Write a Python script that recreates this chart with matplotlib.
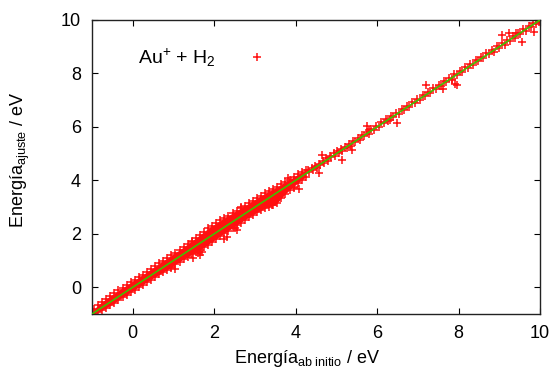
import matplotlib
matplotlib.use("Agg")
import matplotlib.pyplot as plt

plt.rcParams['font.family'] = ['Liberation Sans', 'DejaVu Sans']
plt.rcParams['mathtext.fontset'] = 'custom'
plt.rcParams['mathtext.rm'] = 'Liberation Sans'
plt.rcParams['mathtext.it'] = 'Liberation Sans:italic'

# Dense band (low-energy region): envelope of the point cloud
band_x = [-0.95, -0.85, -0.75, -0.65, -0.55, -0.45, -0.35, -0.25, -0.15, -0.05,
          0.05, 0.15, 0.25, 0.35, 0.45, 0.55, 0.65, 0.75, 0.85, 0.95,
          1.05, 1.15, 1.25, 1.35, 1.45, 1.55, 1.65, 1.75, 1.85, 1.95,
          2.05, 2.15, 2.25, 2.35, 2.45, 2.55, 2.65, 2.75, 2.85, 2.95,
          3.05, 3.15, 3.25, 3.35, 3.45, 3.55, 3.65, 3.75, 3.85, 3.95,
          4.05, 4.15, 4.25]
band_hi = [-0.82, -0.66, -0.54, -0.43, -0.32, -0.22, -0.12, -0.02, 0.08, 0.18,
           0.27, 0.37, 0.47, 0.58, 0.68, 0.78, 0.89, 0.99, 1.09, 1.19,
           1.30, 1.40, 1.51, 1.62, 1.73, 1.85, 1.96, 2.08, 2.20, 2.30,
           2.40, 2.50, 2.59, 2.68, 2.78, 2.87, 2.96, 3.05, 3.14, 3.24,
           3.33, 3.42, 3.51, 3.59, 3.67, 3.76, 3.85, 3.94, 4.03, 4.13,
           4.22, 4.30, 4.38]
band_lo = [-1.00, -0.94, -0.86, -0.77, -0.68, -0.58, -0.48, -0.38, -0.29, -0.19,
           -0.09, 0.01, 0.10, 0.20, 0.29, 0.39, 0.48, 0.58, 0.66, 0.74,
           0.86, 0.96, 1.05, 1.13, 1.23, 1.31, 1.40, 1.50, 1.60, 1.70,
           1.81, 1.92, 2.02, 2.12, 2.22, 2.32, 2.42, 2.52, 2.62, 2.71,
           2.80, 2.88, 2.96, 3.02, 3.06, 3.16, 3.33, 3.50, 3.64, 3.77,
           3.90, 4.01, 4.13]

# Sparse points (higher energies) and outliers
pts_x = [4.30, 4.34, 4.39, 4.43, 4.48, 4.52, 4.57, 4.61, 4.66, 4.70,
         4.75, 4.79, 4.84, 4.88, 4.93, 4.97, 5.02, 5.06, 5.11, 5.15,
         5.20, 5.25, 5.30, 5.35, 5.41, 5.46, 5.52, 5.57, 5.63, 5.68,
         5.74, 5.80, 5.86, 5.92, 5.98, 6.04, 6.10, 6.16, 6.22, 6.28,
         6.34, 6.40, 6.46, 6.53, 6.60, 6.66, 6.73, 6.79, 6.86, 6.92,
         6.99, 7.05, 7.12, 7.18, 7.25, 7.31, 7.38, 7.44, 7.51, 7.57,
         7.64, 7.70, 7.77, 7.83, 7.90, 7.96, 8.03, 8.09, 8.16, 8.22,
         8.29, 8.35, 8.42, 8.48, 8.55, 8.61, 8.68, 8.74, 8.81, 8.87,
         8.94, 9.00, 9.07, 9.13, 9.20, 9.26, 9.33, 9.39, 9.46, 9.52,
         9.59, 9.65, 9.72, 9.78, 9.84, 9.90, 9.95, 9.98,
         1.49, 1.61, 1.70, 1.65, 2.23, 2.31, 2.55, 1.45, 1.04, 0.94,
         4.64, 4.58, 3.82, 3.97, 4.09, 2.51, 3.41, 2.65, 5.38, 5.15,
         5.75, 5.79, 6.49, 6.32, 7.21, 7.62, 7.92, 7.84, 7.96,
         9.07, 9.23, 9.56, 9.86, 9.40]
pts_y = [4.38, 4.30, 4.47, 4.40, 4.55, 4.47, 4.63, 4.58, 4.74, 4.66,
         4.82, 4.73, 4.90, 4.86, 5.01, 4.92, 5.08, 5.03, 5.18, 5.10,
         5.26, 5.21, 5.37, 5.30, 5.47, 5.43, 5.58, 5.52, 5.70, 5.65,
         5.80, 5.75, 5.93, 5.89, 6.04, 5.99, 6.17, 6.13, 6.28, 6.23,
         6.41, 6.37, 6.52, 6.48, 6.67, 6.63, 6.79, 6.74, 6.93, 6.89,
         7.05, 7.00, 7.19, 7.15, 7.31, 7.26, 7.45, 7.41, 7.57, 7.52,
         7.71, 7.67, 7.83, 7.78, 7.97, 7.93, 8.09, 8.04, 8.23, 8.19,
         8.35, 8.30, 8.49, 8.45, 8.61, 8.56, 8.75, 8.71, 8.87, 8.82,
         9.01, 8.97, 9.13, 9.08, 9.27, 9.23, 9.39, 9.34, 9.53, 9.49,
         9.65, 9.60, 9.79, 9.75, 9.90, 9.85, 9.99, 9.93,
         1.11, 1.28, 1.32, 1.20, 1.82, 1.88, 2.13, 1.70, 0.70, 0.72,
         4.94, 4.26, 4.07, 3.73, 3.67, 2.20, 3.07, 3.01, 5.13, 4.78,
         6.03, 5.88, 6.15, 6.25, 7.57, 7.40, 7.59, 7.75, 7.57,
         9.44, 9.52, 9.19, 9.56, 9.50]

fit_x = [-1.0, 10.0]
fit_y = [-1.0, 10.0]

red = '#ff1010'
ms, mew = 5.5, 1.1
fig = plt.figure(figsize=(5.55, 3.76), dpi=100)
ax = fig.add_axes([92/555, 1 - 314/376, 448/555, 294/376])

ax.fill_between(band_x, band_lo, band_hi, color=red, lw=0, zorder=2)
ax.plot(band_x, band_hi, '+', color=red, ms=ms, mew=mew, zorder=2)
ax.plot(band_x, band_lo, '+', color=red, ms=ms, mew=mew, zorder=2)
ax.plot(pts_x, pts_y, '+', color=red, ms=ms, mew=mew, zorder=2,
        label=r'Au$^{+}$ + H$_{2}$')
ax.plot(fit_x, fit_y, '-', color='#40c000', lw=1.2, zorder=3)

ax.set_xlim(-1, 10)
ax.set_ylim(-1, 10)
ax.set_xticks([0, 2, 4, 6, 8, 10])
ax.set_yticks([0, 2, 4, 6, 8, 10])
ax.tick_params(direction='in', top=True, right=True, length=4, width=0.8,
               labelsize=13, pad=8)
for s in ax.spines.values():
    s.set_linewidth(1.0)
    s.set_color('#222222')

ax.set_xlabel(r'Energía$_{\mathrm{ab\ initio}}$ / eV', fontsize=13, labelpad=5)
ax.xaxis.set_label_coords(0.48, -0.115)
ax.set_ylabel(r'Energía$_{\mathrm{ajuste}}$ / eV', fontsize=13)
ax.yaxis.set_label_coords(-0.135, 0.525)

ax.legend(loc='center left', bbox_to_anchor=((138 - 92) / 448, 1 - (58 - 20) / 294),
          frameon=False, markerfirst=False, handlelength=2.0, handletextpad=1.1,
          borderpad=0, borderaxespad=0, fontsize=14, numpoints=1)

fig.savefig('out.png', dpi=100)
